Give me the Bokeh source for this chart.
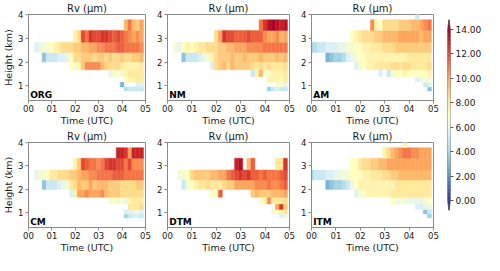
import numpy as np
from bokeh.plotting import figure
from bokeh.models import (ColumnDataSource, LinearColorMapper, FixedTicker, Label,
                          Range1d, NumeralTickFormatter)
from bokeh.layouts import row, column
from bokeh.embed import file_html
from bokeh.resources import INLINE

# ---------------- data ----------------
TIME_MIN = list(range(0, 300, 10))          # 10-min bins, centres (minutes after 00 UTC)
HEIGHT_EDGES = [0.78, 0.95, 1.15, 1.38, 1.67, 2.0, 2.4, 2.83, 3.33, 3.78, 4.25]  # km
X_TICKS = [0, 1, 2, 3, 4, 5]
X_LABELS = ["00", "01", "02", "03", "04", "05"]
Y_TICKS = [1, 2, 3, 4]
CB_TICKS = [0, 2, 4, 6, 8, 10, 12, 14]
V_LOW, V_HIGH = 0.0, 14.0
N = None

# each row (bottom -> top): (first time-bin index, values) or None
ORG = [
    (25, [4.5, 5, 5, 5, 5]),
    (24, [3, N, N, N, 5.5, 5.5]),
    (25, [7, 7.5, 7.5, 8, 8]),
    (21, [6, 6.5, 7, 6.5, 7.5, 8, 8, 8, 8]),
    (11, [7, 6.5, 7.5, 9, 10.5, 10.5, 10.5, 10.5, 9.5, 9, 8.5, 8.5, 8.5, 8, 7.5, 7.5, 7.5, 7.5, 8]),
    (4, [3.5, 5, 5, 5, 5.5, 5.5, 6, 7, 8.5, 8.5, 9, 9, 9, 8.5, 9, 9, 8.5, 9, 8.5, 8.5, 9, 8.5, 8.5, 9, 9, 9.5]),
    (2, [5.5, 6, 6.5, 6.5, 7, 7.5, 8, 8.5, 8.5, 8.5, 9, 9, 9.5, 9.5, 10, 10, 10.5, 10.5, 11, 11, 11, 11.5, 11.5, 11, 11, 11, 11, 10.5]),
    (12, [7.5, 8.5, 12, 11, 12.5, 12, 12, 12.5, 12.5, 12, 11.5, 12, 11.5, 11, 10.5, 10, 10.5, 10]),
    (25, [9.5, 11, 9.5, 9, 10]),
    None,
]
NM = [
    (25, [4, 5, 5.5, 5, 5]),
    (27, [6.5, 6.5, 6]),
    (25, [7.5, 7.5, 7.5, 7, 8]),
    (21, [5, 7.5, 9.5, 6.5, 7, 7.5, 7.5, 7.5, 8]),
    (11, [5.5, 8.5, 9, 9.5, 8.5, 9.5, 9, 9, 9, 9, 8.5, 8, 8.5, 8, 8.5, 8, 8, 8, 8.5]),
    (4, [3.5, 5, 5, 5, 5.5, 6, 6.5, 7.5, 8.5, 9, 9, 9, 9.5, 9, 9, 9.5, 9, 9, 9, 9.5, 9, 9, 9, 9.5, 9, 9.5]),
    (2, [6.5, 6, 7, 7.5, 7, 7.5, 8, 8, 8.5, 8.5, 8.5, 9, 9, 9.5, 9.5, 10, 10, 10, 10.5, 10.5, 10.5, 10.5, 11, 11, 11, 11, 11, 11]),
    (12, [8.5, 10, 12.5, 12, 12, 11.5, 11.5, 11.5, 12, 11.5, 11.5, 11.5, 10.5, 10, 10, 10.5, 9.5, 10]),
    (23, [11, 12.5, 13.5, 14, 13.5, 13, 13.5]),
    None,
]
AM = [
    (29, [3.5]),
    (28, [5, 5.5]),
    (26, [5.5, 6, 6.5, 6.5]),
    (17, [5.5, N, 5, 6.5, 7, 7, 7.5, 7, 7, 7, 7, 7, 7.5]),
    (11, [5.5, 6.5, 7, 7.5, 7.5, 8, 8, 8, 8, 8.5, 8.5, 8, 8.5, 8.5, 8, 8, 8, 8, 8.5]),
    (4, [3, 3.5, 4, 4, 4.5, 5.5, 6, 6.5, 7, 7, 7.5, 7.5, 7.5, 7.5, 7.5, 7.5, 7.5, 7.5, 7.5, 7.5, 8, 8, 8, 8, 8, 8]),
    (0, [4, 4.5, 5, 5, 5.5, 5.5, 5.5, 6, 6, 6.5, 6.5, 7, 7, 7.5, 7.5, 8, 8, 8, 8.5, 8.5, 8.5, 9, 9, 9, 9, 9, 9, 9, 9, 9]),
    (10, [7, 7.5, 8, 8.5, 8.5, 8.5, 9, 9, 9.5, 9.5, 9.5, 9.5, 10, 10, 10, 10, 10, 9.5, 10, 10]),
    (15, [10.5, 7.5, 7, 8.5, 8.5, 8.5, 8.5, 9, 9, 9, 9.5, 9.5, 10, 10.5, 11]),
    (26, [5]),
]
CM = [
    (25, [4, 5, 5.5, 5.5, 5]),
    (25, [5.5, 6, 6, 6.5, 5.5]),
    (26, [8, 8, 8, 8.5]),
    (21, [6.5, 7, 6.5, 7, 6, 7.5, 8, 8, 8]),
    (11, [5.5, 7.5, 10, 10, 10.5, 10, 10, 10, 10.5, 9.5, 9, 9, 9, 8.5, 8.5, 8.5, 8.5, 8.5, 8.5]),
    (4, [3.5, 5, 5, 5, 5.5, 6, 6.5, 8, 8.5, 9.5, 9, 9, 10, 9, 9.5, 9.5, 9.5, 9, 9, 9, 8.5, 8.5, 8.5, 8.5, 9, 9]),
    (2, [6, 6.5, 6.5, 7, 8, 8, 8.5, 8.5, 8.5, 9, 9, 9.5, 10, 10, 10.5, 10.5, 11, 11, 11, 11, 11.5, 11.5, 11.5, 11, 11, 11, 11, 11]),
    (12, [7.5, 9, 12, 11.5, 11, 11, 10.5, 11, 12, 12.5, 12.5, 12, 12, 11, 12, 10.5, 10.5, 10.5]),
    (23, [13, 13, 12.5, 10, 13, 13, 13]),
    None,
]
DTM = [
    (28, [5.5, 6.5]),
    (26, [7, 7, 7.5, 8]),
    (27, [10, 12.5, 9]),
    (23, [7, 7.5, 10.5, 8, 8, 8, 8.5]),
    (11, [7, 7, 11.5, N, N, N, N, N, N, N, 9, 9.5, 9, 9, 9, 9.5, 9.5, 9.5, 10]),
    (4, [5, 6.5, 7, 7.5, 8, 8, 8.5, 8, 8, 8, 8.5, 9, 9, 10, 10, 10, 10, 10, 10.5, 10.5, 10.5, 11, 10.5, 10.5, 11, 11.5]),
    (3, [6.5, 6.5, 7, 8.5, 9, 9, 9, 9, 9.5, 9.5, 10, 10, 11, 11.5, 12, 12.5, 12, 12.5, 11.5, 11.5, 11, 11.5, 11, 11, 11, 11.5, 12]),
    (17, [13, 13.5, N, 9.5, 11.5, N, N, N, N, N, 8, 8, 12.5]),
    None,
    None,
]
ITM = [
    (29, [4]),
    (28, [3.5, 5]),
    (26, [5.5, 5.5, 6, 6]),
    (20, [7, 6.5, 6.5, 6.5, 6, 6, 6, 6, 6.5, 7]),
    (11, [5.5, 6.5, 7, 7.5, 7.5, 7.5, 7.5, 7.5, 7.5, 8, 8, 8, 8, 8, 8, 8, 8, 8, 8]),
    (4, [3, 3.5, 4, 4, 4.5, 5, 6, 7, 7.5, 7.5, 7.5, 7.5, 7.5, 7.5, 7.5, 7.5, 7.5, 8, 8, 8, 8, 8, 8, 8, 8, 8]),
    (0, [4, 5, 5, 5, 5.5, 5.5, 6, 6, 6.5, 6.5, 7, 7, 7, 7.5, 7.5, 8, 8, 8, 8.5, 8.5, 9, 9, 9.5, 9.5, 9.5, 9.5, 9.5, 9.5, 9.5, 9.5]),
    (10, [7, 7, 8, 8.5, 8.5, 9, 9, 9.5, 9.5, 10, 10, 10, 10, 10, 10, 10, 10, 10, 10, 10]),
    (18, [7.5, 8.5, 9.5, 10, 10.5, 11, 11, 10.5, 10.5, 10, 10, 10]),
    (23, [7.5]),
]
PANEL_NAMES = ["ORG", "NM", "AM", "CM", "DTM", "ITM"]
PANEL_DATA = [ORG, NM, AM, CM, DTM, ITM]

# ---------------- style ----------------
ANCHORS = ["#313695", "#4575b4", "#74add1", "#abd9e9", "#e0f3f8", "#ffffbf",
           "#fee090", "#fdae61", "#f46d43", "#d73027", "#a50026"]
FONT = "DejaVu Sans"
SPINE = "#8a8a8a"
TXT = "#1a1a1a"


def make_palette(n=256):
    rgb = np.array([[int(c[i:i + 2], 16) for i in (1, 3, 5)] for c in ANCHORS], float)
    xs = np.linspace(0, 1, len(ANCHORS))
    out = []
    for t in np.linspace(0, 1, n):
        out.append("#%02x%02x%02x" % tuple(int(round(np.interp(t, xs, rgb[:, ch]))) for ch in range(3)))
    return out


PALETTE = make_palette()
MAPPER = LinearColorMapper(palette=PALETTE, low=V_LOW, high=V_HIGH)


def cells(rows):
    d = dict(left=[], right=[], bottom=[], top=[], v=[])
    half = 5 / 60.0
    for r, entry in enumerate(rows):
        if entry is None:
            continue
        start, vals = entry
        for j, v in enumerate(vals):
            if v is None:
                continue
            t = TIME_MIN[start + j] / 60.0
            d["left"].append(t - half)
            d["right"].append(t + half)
            d["bottom"].append(HEIGHT_EDGES[r])
            d["top"].append(HEIGHT_EDGES[r + 1])
            d["v"].append(v)
    return ColumnDataSource(d)


FRAME_W = 122


def panel(idx):
    first_col = idx % 3 == 0
    top_row = idx < 3
    ml = 23 if first_col else 16
    mr = 6
    mt = 13
    mb = 25
    fh = 90 if top_row else 89
    p = figure(width=ml + FRAME_W + mr, height=mt + fh + mb,
               x_range=Range1d(0, 5), y_range=Range1d(0.38, 4.0),
               output_backend="svg", toolbar_location=None,
               min_border_left=ml, min_border_right=mr,
               min_border_top=mt, min_border_bottom=mb,
               title="Rv (μm)")
    p.title.text_font = FONT
    p.title.text_font_size = "10px"
    p.title.text_font_style = "normal"
    p.title.text_color = TXT
    p.title.align = "center"
    p.title.standoff = 1
    p.title.offset = 0
    p.grid.visible = False
    p.background_fill_color = "white"
    p.border_fill_color = "white"
    p.outline_line_color = SPINE
    p.outline_line_width = 1

    p.quad(left="left", right="right", bottom="bottom", top="top",
           source=cells(PANEL_DATA[idx]),
           fill_color={"field": "v", "transform": MAPPER},
           line_color={"field": "v", "transform": MAPPER}, line_width=0.4)

    for ax in (p.xaxis[0], p.yaxis[0]):
        ax.axis_line_color = SPINE
        ax.major_tick_line_color = SPINE
        ax.major_tick_out = 3
        ax.major_tick_in = 0
        ax.minor_tick_line_color = None
        ax.major_label_text_font = FONT
        ax.major_label_text_font_size = "8.5px"
        ax.major_label_text_color = TXT
        ax.major_label_standoff = 1
        ax.axis_label_text_font = FONT
        ax.axis_label_text_font_size = "9.5px"
        ax.axis_label_text_font_style = "normal"
        ax.axis_label_text_color = TXT
        ax.axis_label_standoff = 0
    p.yaxis.major_label_standoff = 2
    p.yaxis.axis_label_standoff = 1
    p.xaxis.ticker = FixedTicker(ticks=X_TICKS)
    p.xaxis.major_label_overrides = {t: l for t, l in zip(X_TICKS, X_LABELS)}
    p.xaxis.axis_label = "Time (UTC)"
    p.yaxis.ticker = FixedTicker(ticks=Y_TICKS)
    if first_col:
        p.yaxis.axis_label = "Height (km)"

    p.add_layout(Label(x=0.07, y=0.41, text=PANEL_NAMES[idx], text_font=FONT,
                       text_font_size="9px", text_font_style="bold",
                       text_color="black", text_baseline="bottom"))
    return p


panels = [panel(i) for i in range(6)]

# ---------------- colorbar ----------------
CB_W, CB_H = 45, 255
ext = 0.8
cb = figure(width=CB_W, height=CB_H, x_range=Range1d(0, 1),
            y_range=Range1d(V_LOW - ext, V_HIGH + ext),
            output_backend="svg", toolbar_location=None, y_axis_location="right",
            min_border_left=8, min_border_right=31, min_border_top=19, min_border_bottom=45)
cb.xaxis.visible = False
cb.grid.visible = False
cb.outline_line_color = None
cb.border_fill_color = "white"
levels = np.linspace(V_LOW, V_HIGH, 129)
cb_src = ColumnDataSource(dict(b=levels[:-1], t=levels[1:], m=(levels[:-1] + levels[1:]) / 2))
cb.quad(left=0, right=1, bottom="b", top="t",
        fill_color={"field": "m", "transform": MAPPER},
        line_color={"field": "m", "transform": MAPPER}, line_width=0.5,
        source=cb_src)
cb.patch([0, 1, 0.5], [V_HIGH, V_HIGH, V_HIGH + ext], fill_color=PALETTE[-1], line_color=PALETTE[-1], line_width=0.5)
cb.patch([0, 1, 0.5], [V_LOW, V_LOW, V_LOW - ext], fill_color=PALETTE[0], line_color=PALETTE[0], line_width=0.5)
cb.line([0, 0, 0.5, 1, 1, 0.5, 0], [V_LOW, V_HIGH, V_HIGH + ext, V_HIGH, V_LOW, V_LOW - ext, V_LOW],
        line_color="#555555", line_width=0.8)
ya = cb.yaxis[0]
ya.ticker = FixedTicker(ticks=CB_TICKS)
ya.formatter = NumeralTickFormatter(format="0.00")
ya.axis_line_color = None
ya.major_tick_line_color = "#555555"
ya.major_tick_out = 3
ya.major_tick_in = 0
ya.minor_tick_line_color = None
ya.major_label_text_font = FONT
ya.major_label_text_font_size = "9px"
ya.major_label_text_color = TXT
ya.major_label_standoff = 2

layout = row(column(row(*panels[:3]), row(*panels[3:])), cb)

with open("out.html", "w") as f:
    f.write(file_html(layout, INLINE))
